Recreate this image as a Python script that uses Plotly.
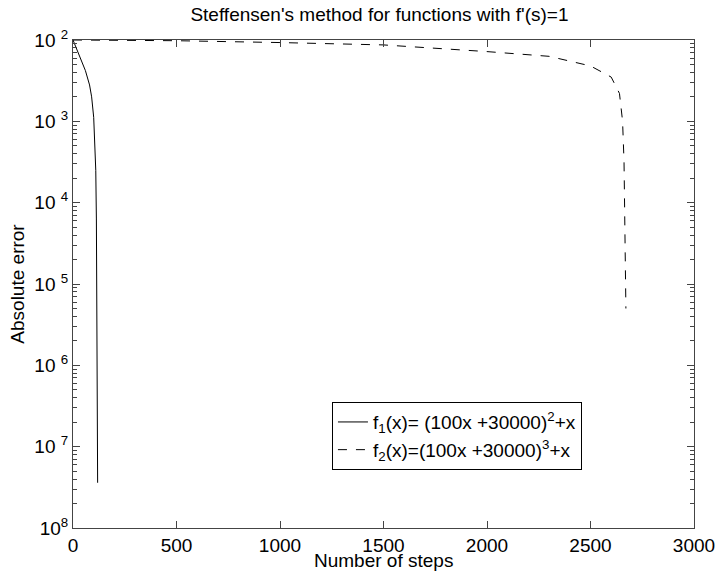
import plotly.graph_objects as go

# f1 data (steps, absolute error)
f1_steps = [0, 10, 20, 40, 60, 80, 90, 100, 105, 110, 113, 115, 117, 118, 119]
f1_err = [1e-2, 8.6e-3, 7.4e-3, 5.5e-3, 4.2e-3, 2.8e-3, 2.0e-3, 1.12e-3, 6.3e-4,
          2.5e-4, 6.3e-5, 1e-5, 1e-6, 1e-7, 3.6e-8]

# f2 data
f2_steps = [0, 500, 1000, 1500, 2000, 2300, 2500, 2600, 2640, 2655, 2662, 2666, 2668, 2671]
f2_err = [1e-2, 9.8e-3, 9.3e-3, 8.7e-3, 7.2e-3, 6.3e-3, 4.8e-3, 3.5e-3, 2.2e-3,
          1e-3, 3.2e-4, 6.3e-5, 1.6e-5, 5e-6]

y_tickvals = [1e-8, 1e-7, 1e-6, 1e-5, 1e-4, 1e-3, 1e-2]
y_ticktext = ["10<sup>8</sup>", "10 <sup>7</sup>", "10 <sup>6</sup>", "10 <sup>5</sup>",
              "10 <sup>4</sup>", "10 <sup>3</sup>", "10 <sup>2</sup>"]
x_tickvals = [0, 500, 1000, 1500, 2000, 2500, 3000]

minor_vals = [m * 10.0 ** e for e in range(-8, -2) for m in range(2, 10)]

font = "Liberation Sans, Arial, sans-serif"

fig = go.Figure()
fig.add_trace(go.Scatter(x=f1_steps, y=f1_err, mode="lines",
                         line=dict(color="black", width=1, dash="solid"),
                         name="f<sub>1</sub>(x)= (100x +30000)<sup>2</sup>+x"))
fig.add_trace(go.Scatter(x=f2_steps, y=f2_err, mode="lines",
                         line=dict(color="black", width=1, dash="dash"),
                         name="f<sub>2</sub>(x)=(100x +30000)<sup>3</sup>+x"))

fig.update_layout(
    width=716, height=573,
    margin=dict(l=73, r=22, t=40, b=45, autoexpand=False),
    paper_bgcolor="white", plot_bgcolor="white",
    font=dict(family=font, color="black", size=19),
    title=dict(text="Steffensen's method for functions with f'(s)=1",
               x=0.53, xanchor="center", y=0.975, yanchor="middle",
               font=dict(size=19)),
    showlegend=True,
    legend=dict(x=0.417, y=0.258, xanchor="left", yanchor="top",
                bordercolor="black", borderwidth=1, bgcolor="white",
                font=dict(size=19), tracegroupgap=0, itemwidth=30),
    annotations=[dict(text="Number of steps", xref="paper", yref="paper",
                      x=0.5, y=-0.067, xanchor="center", yanchor="middle",
                      showarrow=False, font=dict(size=19))],
)
fig.update_xaxes(range=[0, 3000], tickvals=x_tickvals, ticks="inside", ticklen=7,
                 showline=True, linecolor="#444", linewidth=1, mirror="ticks",
                 showgrid=False, zeroline=False, automargin=False,
                 tickfont=dict(size=19))
fig.update_yaxes(type="log", range=[-8, -2], tickvals=y_tickvals, ticktext=y_ticktext,
                 ticks="inside", ticklen=7, showline=True, linecolor="#444", linewidth=1,
                 mirror="ticks", showgrid=False, zeroline=False, automargin=False,
                 minor=dict(tickvals=minor_vals, ticks="inside", ticklen=4,
                            showgrid=False, tickcolor="#444"),
                 title=dict(text="Absolute error", standoff=4, font=dict(size=19)),
                 tickfont=dict(size=19))

fig.write_html("out.html")
